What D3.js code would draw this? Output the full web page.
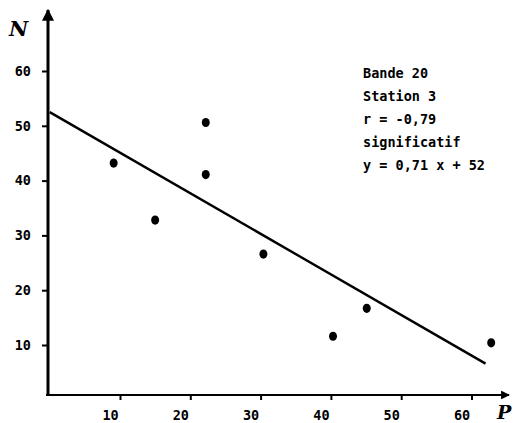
<!DOCTYPE html>
<html>
<head>
<meta charset="utf-8">
<script src="https://cdn.jsdelivr.net/npm/d3@7"></script>
<style>
  body { margin: 0; background: white; }
  text { fill: black; }
</style>
</head>
<body>
<div id="chart"></div>
<script>
// data
const pointsP = [9.1, 15.0, 22.2, 22.2, 30.4, 40.3, 45.1, 62.8]
const pointsN = [43.2, 32.8, 50.6, 41.1, 26.6, 11.6, 16.7, 10.4]
const fitP = [0, 62]
const fitN = [52.5, 6.6]
const ticks_x = [10, 20, 30, 40, 50, 60]
const ticks_y = [10, 20, 30, 40, 50, 60]
const notes = ["Bande 20", "Station 3", "r = -0,79", "significatif", "y = 0,71 x + 52"]

const width = 520
const height = 423

const svg = d3.select("#chart")
    .append("svg")
        .attr("width", width)
        .attr("height", height)

const x = d3.scaleLinear()
            .domain([0, 70])
            .range([49.7, 541.8])
const y = d3.scaleLinear()
            .domain([0, 70])
            .range([399.8, 16.2])

const x0 = 48
const y0 = 395

// arrow heads
svg.append("defs").append("marker")
    .attr("id", "arrow")
    .attr("viewBox", "0 0 10 10")
    .attr("refX", 9)
    .attr("refY", 5)
    .attr("markerWidth", 5)
    .attr("markerHeight", 4)
    .attr("markerUnits", "strokeWidth")
    .attr("orient", "auto")
    .append("path")
        .attr("d", "M0,0 L10,5 L0,10 Z")
        .attr("fill", "black")

// x axis
const x_axis = svg.append("g")
    .attr("transform", `translate(0, ${y0})`)
    .call(d3.axisBottom(x)
            .tickValues(ticks_x)
            .tickSize(5)
            .tickPadding(10)
            .tickFormat(d3.format("d")))
x_axis.select(".domain").remove()
x_axis.selectAll("line").attr("stroke-width", 2)
x_axis.selectAll("text")
    .attr("dx", -10)
    .attr("font-family", "DejaVu Sans Mono")
    .attr("font-weight", "bold")
    .attr("font-size", 13.5)

svg.append("line")
    .attr("x1", x0 - 2)
    .attr("y1", y0)
    .attr("x2", 509)
    .attr("y2", y0)
    .attr("stroke", "black")
    .attr("stroke-width", 2.2)
    .attr("marker-end", "url(#arrow)")

// y axis
const y_axis = svg.append("g")
    .attr("transform", `translate(${x0}, 0)`)
    .call(d3.axisLeft(y)
            .tickValues(ticks_y)
            .tickSize(6)
            .tickPadding(11)
            .tickFormat(d3.format("d")))
y_axis.select(".domain").remove()
y_axis.selectAll("line").attr("stroke-width", 2)
y_axis.selectAll("text")
    .attr("font-family", "DejaVu Sans Mono")
    .attr("font-weight", "bold")
    .attr("font-size", 13.5)

svg.append("line")
    .attr("x1", x0)
    .attr("y1", y0 + 1)
    .attr("x2", x0)
    .attr("y2", 10)
    .attr("stroke", "black")
    .attr("stroke-width", 3)
    .attr("marker-end", "url(#arrow)")

// axis names
svg.append("text")
    .attr("x", 9)
    .attr("y", 36)
    .attr("font-family", "DejaVu Serif")
    .attr("font-style", "italic")
    .attr("font-weight", "bold")
    .attr("font-size", 21)
    .text("N")

svg.append("text")
    .attr("x", 497)
    .attr("y", 419)
    .attr("font-family", "DejaVu Serif")
    .attr("font-style", "italic")
    .attr("font-weight", "bold")
    .attr("font-size", 19)
    .text("P")

// regression line
svg.append("path")
    .datum(d3.zip(fitP, fitN))
    .attr("d", d3.line()
        .x(d => x(d[0]))
        .y(d => y(d[1])))
    .attr("stroke", "black")
    .attr("stroke-width", 2.4)
    .attr("fill", "none")

// points
svg.selectAll("ellipse.point")
    .data(d3.zip(pointsP, pointsN))
    .join("ellipse")
        .attr("class", "point")
        .attr("cx", d => x(d[0]))
        .attr("cy", d => y(d[1]))
        .attr("rx", 4)
        .attr("ry", 4.6)
        .attr("fill", "black")

// annotation
svg.append("g")
    .selectAll("text")
    .data(notes)
    .join("text")
        .attr("x", 363)
        .attr("y", (d, i) => 78 + i * 23)
        .attr("font-family", "DejaVu Sans Mono")
        .attr("font-weight", "bold")
        .attr("font-size", 13.5)
        .text(d => d)
</script>
</body>
</html>
